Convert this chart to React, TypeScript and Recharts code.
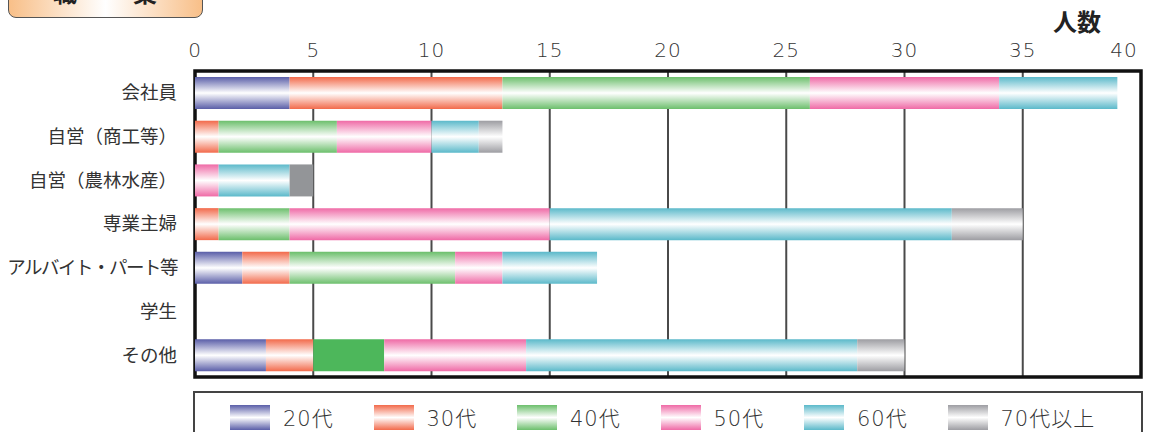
import React from 'react';
import { BarChart, Bar, XAxis, YAxis, CartesianGrid, Legend, ReferenceArea, Cell, Label } from 'recharts';

const categories = ['会社員', '自営（商工等）', '自営（農林水産）', '専業主婦', 'アルバイト・パート等', '学生', 'その他'];
const seriesNames = ['20代', '30代', '40代', '50代', '60代', '70代以上'];
const seriesKeys = ['s20', 's30', 's40', 's50', 's60', 's70'];
const age20 = [4, 0, 0, 0, 2, 0, 3];
const age30 = [9, 1, 0, 1, 2, 0, 2];
const age40 = [13, 5, 0, 3, 7, 0, 3];
const age50 = [8, 4, 1, 11, 2, 0, 6];
const age60 = [5, 2, 3, 17, 4, 0, 14];
const age70 = [0, 1, 1, 3, 0, 0, 2];
const xTicks = [0, 5, 10, 15, 20, 25, 30, 35, 40];

const seriesValues = [age20, age30, age40, age50, age60, age70];
const seriesColors = ['#5a5ea8', '#f26a4b', '#6cbf6c', '#ef6aa6', '#5bb9ca', '#9d9da2'];
const solidFills = [
  { cat: '自営（農林水産）', key: 's70', color: '#939598' },
  { cat: 'その他', key: 's40', color: '#4db75b' },
];

const data = categories.map((name, i) => {
  const row: any = { name };
  seriesKeys.forEach((k, j) => {
    row[k] = seriesValues[j][i];
  });
  return row;
});

const FONT = '"Noto Sans CJK JP", "Noto Sans", sans-serif';
const NUMFONT = '"DejaVu Sans", "Noto Sans CJK JP", sans-serif';

const GradStops = ({ color }: { color: string }) => (
  <>
    <stop offset="0%" stopColor={color} />
    <stop offset="50%" stopColor="#ffffff" />
    <stop offset="100%" stopColor={color} />
  </>
);

const XTick = (props: any) => {
  const { x, y, payload } = props;
  const dx = payload.value === 40 ? -17 : 0;
  return (
    <text
      x={x + dx}
      y={y}
      textAnchor="middle"
      fontSize={20}
      fontWeight={300}
      letterSpacing={1}
      fill="#333"
      fontFamily={NUMFONT}
    >
      {payload.value}
    </text>
  );
};

const YTick = (props: any) => {
  const { x, y, payload } = props;
  const long = String(payload.value).length > 8;
  return (
    <text
      x={x}
      y={y}
      dy="0.35em"
      textAnchor="end"
      fontSize={18.5}
      fill="#333"
      fontFamily={FONT}
      letterSpacing={long ? -1.5 : 0}
    >
      {payload.value}
    </text>
  );
};

const renderLegend = (props: any) => {
  const payload = props.payload || [];
  return (
    <div
      style={{
        boxSizing: 'border-box',
        width: 950,
        height: 60,
        border: '2px solid #444',
        background: '#fff',
        position: 'relative',
      }}
    >
      {payload.map((p: any, i: number) => {
        const idx = seriesKeys.indexOf(p.dataKey);
        const color = seriesColors[idx >= 0 ? idx : i];
        return (
          <div
            key={i}
            style={{ position: 'absolute', left: 35 + i * 143.5, top: 9, display: 'flex', alignItems: 'center' }}
          >
            <svg width={40} height={25} style={{ display: 'block' }}>
              <defs>
                <linearGradient id={`lg${i}`} x1="0" y1="0" x2="0" y2="1">
                  <GradStops color={color} />
                </linearGradient>
              </defs>
              <rect x={0} y={0} width={40} height={25} fill={`url(#lg${i})`} />
            </svg>
            <span
              style={{
                marginLeft: 13,
                fontSize: 21,
                fontWeight: 300,
                letterSpacing: 1,
                color: '#333',
                whiteSpace: 'nowrap',
                fontFamily: NUMFONT,
              }}
            >
              {p.value}
            </span>
          </div>
        );
      })}
    </div>
  );
};

export default function App() {
  return (
    <div style={{ position: 'relative', width: 1151, height: 432, overflow: 'hidden', background: '#fff' }}>
      <style>{'body{margin:0}'}</style>
      <div
        style={{
          position: 'absolute',
          left: 8,
          top: -24,
          width: 195,
          height: 42,
          boxSizing: 'border-box',
          border: '1.5px solid #555',
          borderRadius: 8,
          background: 'linear-gradient(to right, #f8bf88, #ffffff 50%, #f8bf88)',
          fontFamily: FONT,
          fontWeight: 700,
          fontSize: 24,
          color: '#222',
          zIndex: 2,
        }}
      >
        <span style={{ position: 'absolute', left: 44, top: 0, lineHeight: '30px' }}>職</span>
        <span style={{ position: 'absolute', left: 124, top: 0, lineHeight: '30px' }}>業</span>
      </div>
      <BarChart
        width={1151}
        height={432}
        layout="vertical"
        data={data}
        margin={{ top: 41, right: 10, bottom: 55, left: 0 }}
        barCategoryGap={0}
      >
        <defs>
          {seriesKeys.map((k, i) => (
            <linearGradient key={k} id={`g${k}`} x1="0" y1="0" x2="0" y2="1">
              <GradStops color={seriesColors[i]} />
            </linearGradient>
          ))}
        </defs>
        <CartesianGrid horizontal={false} vertical stroke="#4a4a4a" strokeWidth={2} />
        <XAxis
          type="number"
          orientation="top"
          domain={[0, 40]}
          ticks={xTicks}
          axisLine={false}
          tickLine={false}
          tickMargin={8}
          height={30}
          tick={<XTick />}
          interval={0}
        >
          <Label
            content={(lp: any) => {
              const vb = lp.viewBox || {};
              return (
                <text
                  x={vb.x + vb.width - 64}
                  y={31}
                  textAnchor="middle"
                  fontSize={24}
                  fontWeight={700}
                  fill="#222"
                  fontFamily={FONT}
                >
                  人数
                </text>
              );
            }}
          />
        </XAxis>
        <YAxis
          type="category"
          dataKey="name"
          width={195}
          axisLine={false}
          tickLine={false}
          tickMargin={12}
          interval={0}
          tick={<YTick />}
        />
        {seriesKeys.map((k, i) => (
          <Bar
            key={k}
            dataKey={k}
            name={seriesNames[i]}
            stackId="a"
            barSize={32}
            fill={`url(#g${k})`}
            isAnimationActive={false}
          >
            {data.map((row, j) => {
              const s = solidFills.find((f) => f.cat === row.name && f.key === k);
              return <Cell key={j} fill={s ? s.color : `url(#g${k})`} />;
            })}
          </Bar>
        ))}
        <ReferenceArea x1={0} x2={40} fill="none" stroke="#111" strokeWidth={3.5} ifOverflow="visible" />
        <Legend
          layout="horizontal"
          verticalAlign="middle"
          align="center"
          content={renderLegend}
          wrapperStyle={{ top: 391, left: 193, width: 950, height: 60 }}
        />
      </BarChart>
    </div>
  );
}
